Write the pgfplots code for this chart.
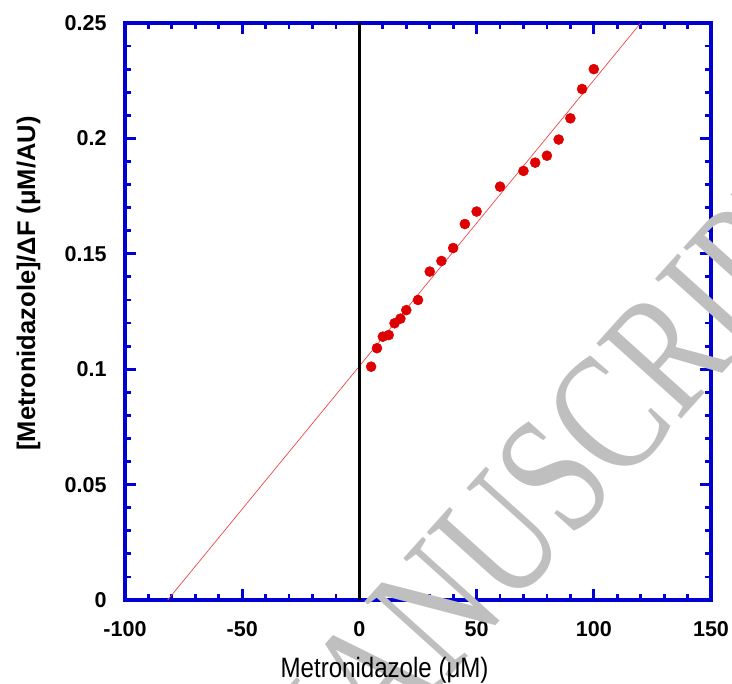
\documentclass[border=0pt]{standalone}
\usepackage{graphicx}
\usepackage{pgfplots}
\pgfplotsset{compat=1.18}
\usepackage{fontspec}
\setmainfont{Liberation Sans}
\newfontfamily\wmfont{Liberation Serif}
\definecolor{axblue}{RGB}{0,0,210}
\definecolor{ptred}{RGB}{222,0,0}
\definecolor{fitred}{RGB}{240,70,70}
\pgfplotsset{
  every axis/.append style={line width=3pt},
  every tick/.style={draw=axblue, line width=2.8pt},
  every major tick/.style={draw=axblue, line width=2.8pt},
  every minor tick/.style={draw=axblue, line width=2.8pt},
}
\begin{document}
\begin{tikzpicture}
\begin{axis}[
  name=ax,
  scale only axis, width=586pt, height=577pt,
  xmin=-100, xmax=150, ymin=0, ymax=0.25,
  axis line style={draw=axblue, line width=3.2pt},
  every outer x axis line/.append style={line width=3.2pt},
  every outer y axis line/.append style={line width=3.2pt},
  xtick style={draw=axblue, line width=2.8pt},
  ytick style={draw=axblue, line width=2.8pt},
  tick align=inside,
  major tick length=11pt, minor tick length=6pt,
  xtick={-100,-50,0,50,100,150},
  xticklabels={-100,-50,0,50,100,150},
  ytick={0,0.05,0.1,0.15,0.2,0.25},
  yticklabels={0,0.05,0.1,0.15,0.2,0.25},
  minor xtick={-90,-80,-70,-60,-40,-30,-20,-10,10,20,30,40,60,70,80,90,110,120,130,140},
  minor ytick={0.01,0.02,0.03,0.04,0.06,0.07,0.08,0.09,0.11,0.12,0.13,0.14,0.16,0.17,0.18,0.19,0.21,0.22,0.23,0.24},
  tick label style={font=\fontsize{21.5}{25}\selectfont\bfseries, text=black},
  xticklabel style={anchor=north, inner sep=0pt, yshift=-20pt},
  yticklabel style={anchor=east, inner sep=0pt, xshift=-17pt},
  xlabel={\scalebox{0.86}[1]{Metronidazole (μM)}},
  ylabel={[Metronidazole]/ΔF (μM/AU)},
  xlabel style={at={(axis description cs:0.443,-0.135)}, anchor=base, inner sep=0pt, font=\fontsize{28}{32}\selectfont},
  ylabel style={at={(axis description cs:-0.1647,0.5485)}, anchor=center, rotate=0, inner sep=0pt, font=\fontsize{25.5}{30}\selectfont\bfseries},
  clip=false,
]
\node[rotate=48, text=black!25, font=\wmfont\fontsize{130}{130}\selectfont, inner sep=0pt] at (axis cs:79,0.049) {\scalebox{1}[1.33]{MANUSCRIPT}};
\addplot[fitred, line width=0.7pt] coordinates {(-81.8,0) (120,0.25)};
\addplot[black, line width=2.4pt] coordinates {(0,0) (0,0.25)};
\addplot[only marks, mark=*, mark size=5pt, color=ptred, mark options={draw=ptred, fill=ptred, line width=0.5pt}] coordinates {
(5,0.1011) (7.5,0.1091) (10,0.1141) (12.5,0.1148) (15,0.1199) (17.5,0.1219)
(20,0.1256) (25,0.1300) (30,0.1423) (35,0.1469) (40,0.1525) (45,0.1629)
(50,0.1683) (60,0.1791) (70,0.1859) (75,0.1895) (80,0.1925) (85,0.1995)
(90,0.2087) (95,0.2214) (100,0.2300)
};
\end{axis}
\pgfresetboundingbox
\path ([xshift=-125pt,yshift=-83pt]ax.south west) rectangle ([xshift=21pt,yshift=23pt]ax.north east);
\end{tikzpicture}
\end{document}
